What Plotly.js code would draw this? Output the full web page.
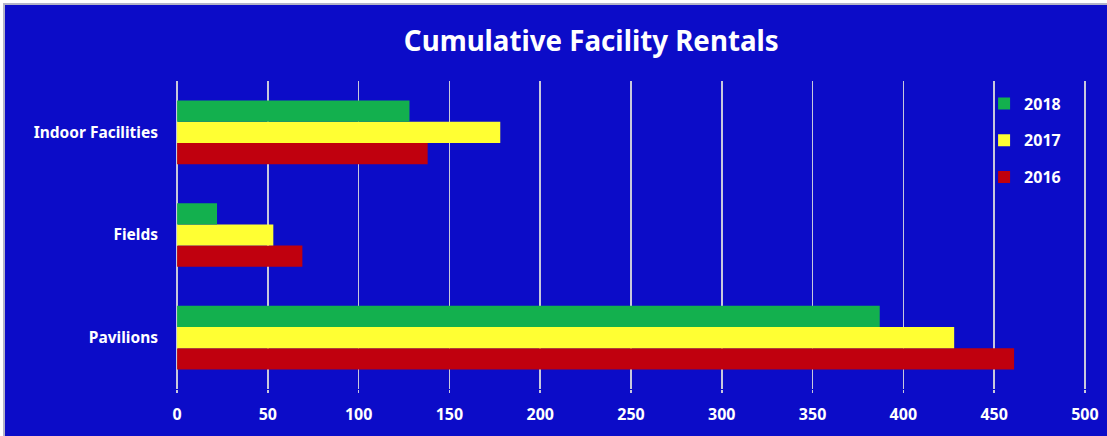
<!DOCTYPE html>
<html>
<head>
<meta charset="utf-8">
<script src="https://cdn.plot.ly/plotly-3.0.1.min.js"></script>
<style>
  html, body { margin: 0; padding: 0; background: #ffffff; width: 1107px; height: 436px; overflow: hidden; }
  #wrap { position: absolute; left: 3px; top: 3px; border-left: 2px solid #b4b4c8; border-top: 2px solid #b4b4c8; }
  #chart { width: 1102px; height: 431px; }
</style>
</head>
<body>
<div id="wrap"><div id="chart"></div></div>
<script>
const categories = ['Pavilions', 'Fields', 'Indoor Facilities'];
const years = ['2016', '2017', '2018'];
const values2016 = [461, 69, 138];
const values2017 = [428, 53, 178];
const values2018 = [387, 22, 128];
const colors = { '2016': '#c0000e', '2017': '#ffff33', '2018': '#13b04e' };
const legendRanks = { '2016': 3, '2017': 2, '2018': 1 };
const xTicks = [0, 50, 100, 150, 200, 250, 300, 350, 400, 450, 500];

const FONT = 'Noto Sans, DejaVu Sans, sans-serif';
const seriesValues = { '2016': values2016, '2017': values2017, '2018': values2018 };

const data = years.map(y => ({
  type: 'bar',
  orientation: 'h',
  name: y,
  legendgroup: y,
  legendrank: legendRanks[y],
  x: seriesValues[y],
  y: categories,
  marker: { color: colors[y], line: { width: 0 } },
  hoverinfo: 'x+name'
}));

const layout = {
  width: 1102,
  height: 431,
  paper_bgcolor: '#0c0cc8',
  plot_bgcolor: '#0c0cc8',
  margin: { l: 171, r: 21, t: 75.5, b: 46.5, pad: 0 },
  barmode: 'group',
  bargap: 0.38,
  bargroupgap: 0,
  showlegend: true,
  title: {
    text: 'Cumulative Facility Rentals',
    font: { family: FONT, size: 27.7, color: '#ffffff', weight: 'bold' },
    x: 0.532, xanchor: 'center', xref: 'container',
    y: 0.915, yanchor: 'middle', yref: 'container'
  },
  xaxis: {
    range: [-0.6, 500.6],
    tickvals: xTicks,
    ticktext: xTicks.map(String),
    showgrid: true,
    gridcolor: '#c8c8dc',
    gridwidth: 1.5,
    zeroline: false,
    showline: false,
    ticks: 'outside',
    ticklen: 3,
    tickwidth: 1.5,
    tickcolor: '#c8c8dc',
    ticklabelstandoff: 8,
    tickfont: { family: FONT, size: 16, color: '#ffffff', weight: 'bold' },
    fixedrange: true
  },
  yaxis: {
    type: 'category',
    categoryorder: 'array',
    categoryarray: categories,
    range: [-0.5, 2.5],
    showgrid: false,
    zeroline: false,
    showline: false,
    ticks: '',
    ticklabelstandoff: 17,
    tickfont: { family: FONT, size: 15.5, color: '#ffffff', weight: 'bold' },
    fixedrange: true
  },
  legend: {
    traceorder: 'grouped',
    tracegroupgap: 13,
    x: 0.888, xanchor: 'left',
    y: 0.982, yanchor: 'top',
    bgcolor: 'rgba(0,0,0,0)',
    font: { family: FONT, size: 16, color: '#ffffff', weight: 'bold' },
    itemwidth: 30
  }
};

Plotly.newPlot('chart', data, layout, { displayModeBar: false, staticPlot: true });
</script>
</body>
</html>
